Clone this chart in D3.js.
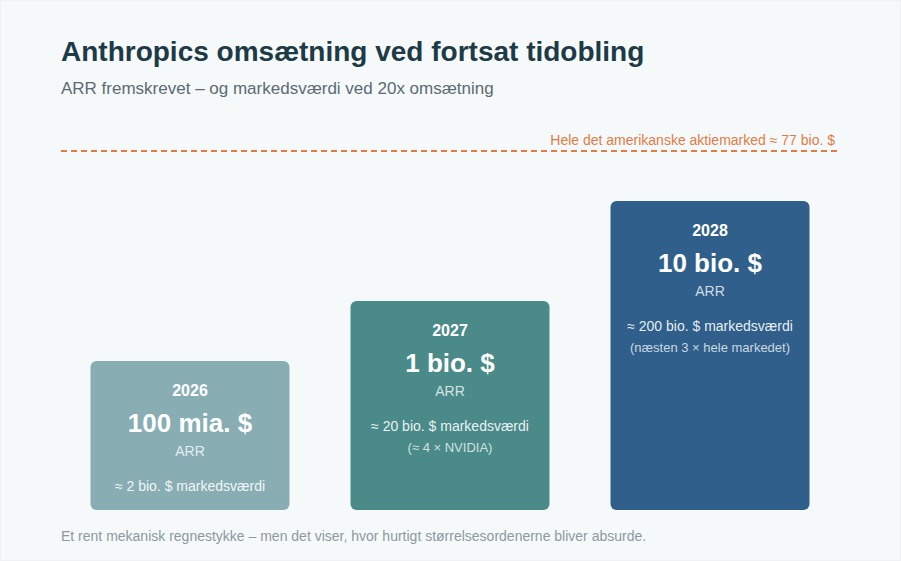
<!DOCTYPE html>
<html><head><meta charset="utf-8">
<script src="https://cdn.jsdelivr.net/npm/d3@7"></script>
<style>
html,body{margin:0;padding:0;background:#ffffff;}
svg{display:block;font-family:"Liberation Sans",Arial,Helvetica,sans-serif;}
</style></head>
<body>
<svg id="chart" width="901" height="561"></svg>
<script>
const years = ["2026", "2027", "2028"];
const arrValues = [1e11, 1e12, 1e13];
const arrLabels = ["100 mia. $", "1 bio. $", "10 bio. $"];
const marketLabels = ["≈ 2 bio. $ markedsværdi", "≈ 20 bio. $ markedsværdi", "≈ 200 bio. $ markedsværdi"];
const notes = ["", "(≈ 4 × NVIDIA)", "(næsten 3 × hele markedet)"];
const boxColors = ["#88aeb4", "#4a8b89", "#2f5f8a"];
const refLabel = "Hele det amerikanske aktiemarked ≈ 77 bio. $";

const svg = d3.select("#chart");
const W = 901, H = 561;
svg.append("rect").attr("x",0.5).attr("y",0.5).attr("width",W-1).attr("height",H-1)
  .attr("fill","#f6f9fa").attr("stroke","#eef2f4");

svg.append("text").attr("x",61).attr("y",61).attr("font-size",28).attr("font-weight","bold")
  .attr("fill","#1d3a47").text("Anthropics omsætning ved fortsat tidobling");
svg.append("text").attr("x",61).attr("y",94).attr("font-size",17)
  .attr("fill","#5b6b73").text("ARR fremskrevet – og markedsværdi ved 20x omsætning");

// reference line
svg.append("line").attr("x1",61).attr("x2",837).attr("y1",151).attr("y2",151)
  .attr("stroke","#e07d44").attr("stroke-width",2).attr("stroke-dasharray","6,4");
svg.append("text").attr("x",835).attr("y",145).attr("text-anchor","end").attr("font-size",14)
  .attr("fill","#e07d44").text(refLabel);

const baseY = 510;
const x = d3.scaleBand().domain(years).range([60,840]).paddingInner(61/260).paddingOuter(61/520);
const h = d3.scaleLog().domain([1e11,1e12,1e13]).range([149,209,309]);

const data = years.map((y,i)=>({year:y, v:arrValues[i], label:arrLabels[i], market:marketLabels[i], note:notes[i], color:boxColors[i]}));

const g = svg.selectAll("g.box").data(data).enter().append("g").attr("class","box")
  .attr("transform", d=>`translate(${x(d.year)},${baseY - h(d.v)})`);

g.append("rect").attr("width", x.bandwidth()).attr("height", d=>h(d.v)).attr("rx",6).attr("ry",6)
  .attr("fill", d=>d.color);

const cx = x.bandwidth()/2;
g.append("text").attr("x",cx).attr("y",35).attr("text-anchor","middle").attr("font-size",16)
  .attr("font-weight","bold").attr("fill","#ffffff").text(d=>d.year);
g.append("text").attr("x",cx).attr("y",71).attr("text-anchor","middle").attr("font-size",26)
  .attr("font-weight","bold").attr("fill","#ffffff").text(d=>d.label);
g.append("text").attr("x",cx).attr("y",95).attr("text-anchor","middle").attr("font-size",14)
  .attr("fill","#ffffff").attr("fill-opacity",0.78).text("ARR");
g.append("text").attr("x",cx).attr("y",130).attr("text-anchor","middle").attr("font-size",14)
  .attr("fill","#ffffff").attr("fill-opacity",0.9).text(d=>d.market);
g.append("text").attr("x",cx).attr("y",151).attr("text-anchor","middle").attr("font-size",13)
  .attr("fill","#ffffff").attr("fill-opacity",0.75).text(d=>d.note);

svg.append("text").attr("x",61).attr("y",541).attr("font-size",14)
  .attr("fill","#8c9aa0").text("Et rent mekanisk regnestykke – men det viser, hvor hurtigt størrelsesordenerne bliver absurde.");
</script>
</body></html>
